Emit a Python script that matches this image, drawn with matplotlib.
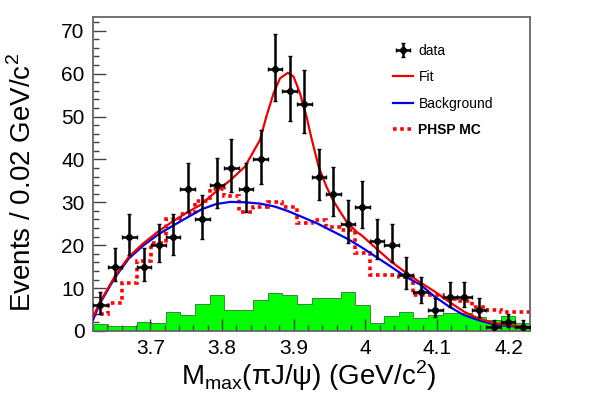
import matplotlib
matplotlib.use('Agg')
import matplotlib.pyplot as plt
from matplotlib.ticker import MultipleLocator, FormatStrFormatter
import numpy as np

plt.rcParams['font.family'] = ['Liberation Sans', 'DejaVu Sans']
plt.rcParams['mathtext.fontset'] = 'custom'
plt.rcParams['mathtext.rm'] = 'Liberation Sans'

# histogram binning (30 bins)
x_lo, x_hi, n_bins = 3.62, 4.23, 30

data_counts = [6, 15, 22, 15, 20, 22, 33, 26, 34, 38, 33, 40, 61, 56, 53,
               36, 32, 25, 29, 21, 20, 13, 9, 5, 8, 8, 5, 1, 2, 1]

phsp_mc = [4, 6.5, 11.3, 16.4, 20.5, 26, 27.2, 30.3, 33, 31.5, 27.8, 29, 30.1, 29, 25.1,
           25.9, 24.3, 23.5, 18.2, 13, 13, 12.5, 8.5, 8.5, 7.5, 7, 5.5, 4.8, 4.5, 4.5]

sideband = [1.6, 1.2, 1.2, 2.2, 1.8, 4.5, 3.7, 6.3, 8.4, 4.9, 4.9, 7.2, 8.9, 8.4, 6.4,
            7.8, 7.8, 9.2, 6.1, 1.9, 3.5, 4.5, 3.0, 3.7, 4.3, 4.3, 3.3, 2.6, 3.5, 1.8]

# fit curve
fit_x = [3.620, 3.630, 3.650, 3.670, 3.690, 3.711, 3.731, 3.751, 3.772, 3.783, 3.792,
         3.812, 3.832, 3.853, 3.862, 3.872, 3.881, 3.892, 3.900, 3.909, 3.918, 3.925,
         3.935, 3.946, 3.955, 3.965, 3.974, 3.988, 3.995, 4.015, 4.036, 4.056, 4.077,
         4.097, 4.117, 4.138, 4.157, 4.178, 4.199, 4.220, 4.230]
fit_y = [3.3, 6.8, 12.6, 17.3, 20.4, 23.2, 25.5, 27.6, 29.6, 31.3, 32.5,
         35.2, 38.3, 44.5, 50.0, 55.4, 58.9, 60.2, 59.3, 55.4, 50.0, 44.9,
         38.3, 33.6, 30.5, 27.8, 25.5, 23.1, 22.3, 19.3, 16.2, 13.7, 11.3,
         9.2, 6.8, 4.5, 3.0, 1.9, 1.4, 1.0, 0.9]

bkg_x = [3.620, 3.630, 3.650, 3.670, 3.690, 3.711, 3.731, 3.751, 3.772, 3.792, 3.812,
         3.832, 3.853, 3.874, 3.893, 3.913, 3.934, 3.954, 3.975, 3.995, 4.015, 4.036,
         4.056, 4.077, 4.097, 4.117, 4.138, 4.157, 4.178, 4.199, 4.220, 4.230]
bkg_y = [2.6, 6.5, 12.3, 16.9, 19.9, 22.5, 24.5, 26.4, 28.4, 29.6, 30.1,
         30.0, 29.7, 29.0, 27.9, 26.5, 25.0, 23.3, 21.5, 19.5, 17.3, 15.0,
         12.7, 10.8, 8.0, 5.7, 3.7, 2.6, 1.6, 1.2, 0.9, 0.8]

edges = np.linspace(x_lo, x_hi, n_bins + 1)
centers = 0.5 * (edges[1:] + edges[:-1])
half_w = 0.5 * (edges[1] - edges[0])
counts = np.array(data_counts, dtype=float)
err_lo = np.sqrt(counts + 0.25) - 0.5
err_hi = np.sqrt(counts + 0.25) + 0.5

fig = plt.figure(figsize=(6.01, 3.99), dpi=100)
ax = fig.add_axes([93 / 601, 68 / 399, 437 / 601, 314 / 399])

ax.stairs(sideband, edges, fill=True, color='#00ff00', zorder=1)
ax.stairs(sideband, edges, color='#3a8a3a', lw=0.7, baseline=None, zorder=1.1)
phsp_line = ax.stairs(phsp_mc, edges, color='red', lw=2.6, linestyle=(0, (1, 1)),
                      baseline=None, zorder=2)
bkg_line, = ax.plot(bkg_x, bkg_y, color='#0000ee', lw=1.6, zorder=3)
fit_line, = ax.plot(fit_x, fit_y, color='#ee0000', lw=1.6, zorder=4)
data_pts = ax.errorbar(centers, counts, yerr=[err_lo, err_hi], xerr=half_w, fmt='o',
                       color='black', ms=4, elinewidth=1.8, capsize=1.2, zorder=5)

ax.set_xlim(x_lo, x_hi)
ax.set_ylim(0, 73.2)
ax.xaxis.set_major_locator(MultipleLocator(0.1))
ax.xaxis.set_minor_locator(MultipleLocator(0.02))
ax.xaxis.set_major_formatter(FormatStrFormatter('%g'))
ax.yaxis.set_major_locator(MultipleLocator(10))
ax.yaxis.set_minor_locator(MultipleLocator(2))
ax.tick_params(which='both', direction='in', top=False, right=False,
               labelsize=15, color='#444444')
ax.tick_params(which='major', length=9, width=1, pad=6)
ax.tick_params(which='minor', length=4.5, width=1)
for sp in ax.spines.values():
    sp.set_color('#666666')
    sp.set_linewidth(1.3)

fig.text(23 / 601, 1 - 183 / 399, 'Events / 0.02 GeV/c$^{\\mathregular{2}}$',
         rotation=90, ha='center', va='center', fontsize=20)
fig.text(309 / 601, 1 - 376 / 399,
         'M$_{\\mathregular{max}}$(\u03c0J/\u03c8) (GeV/c$^{\\mathregular{2}}$)',
         ha='center', va='center', fontsize=20)

leg = ax.legend([data_pts, fit_line, bkg_line, phsp_line],
                ['data', 'Fit', 'Background', 'PHSP MC'],
                loc='upper left', bbox_to_anchor=(0.686, 0.915), frameon=False,
                fontsize=10, handlelength=1.45, handletextpad=0.4,
                labelspacing=0.9, borderpad=0, borderaxespad=0)
leg.get_texts()[3].set_fontweight('bold')

fig.savefig('out.png', dpi=100)
